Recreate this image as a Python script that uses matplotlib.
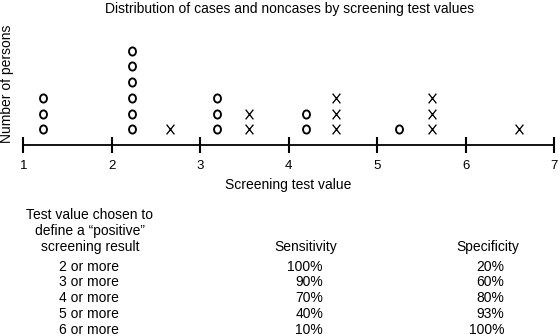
import matplotlib
matplotlib.use('Agg')
import matplotlib.pyplot as plt
from matplotlib.path import Path
from matplotlib.transforms import Affine2D

plt.rcParams['font.family'] = ['Liberation Sans', 'DejaVu Sans']

# ---- data ----
title = "Distribution of cases and noncases by screening test values"
y_label = "Number of persons"
x_label = "Screening test value"
x_ticks = [1, 2, 3, 4, 5, 6, 7]

noncase_values = [1.22, 2.23, 3.19, 4.19, 5.24]   # plotted as O
noncase_counts = [3, 6, 3, 2, 1]
case_values = [2.66, 3.55, 4.53, 5.62, 6.60]      # plotted as X
case_counts = [1, 2, 3, 3, 1]

header_lines = ["Test value chosen to", "define a \u201cpositive\u201d", "screening result"]
col_headers = ["Sensitivity", "Specificity"]
cutoff_labels = ["2 or more", "3 or more", "4 or more", "5 or more", "6 or more"]
sensitivity = [100, 90, 70, 40, 10]
specificity = [20, 60, 80, 93, 100]

# ---- figure ----
W, H = 560, 336
fig = plt.figure(figsize=(W / 100, H / 100), dpi=100)

def fx(px):
    return px / W

def fy(py):
    return 1 - py / H

axis_y = 145
unit_y = 15.7
left_px, right_px = 23.3, 554.3
ax = fig.add_axes([fx(left_px), fy(axis_y), fx(right_px - left_px), 8 * unit_y / H])
ax.set_xlim(1, 7)
ax.set_ylim(0, 8)
for s in ['top', 'right', 'left']:
    ax.spines[s].set_visible(False)
ax.spines['bottom'].set_linewidth(1.3)
ax.set_yticks([])
ax.set_xticks(x_ticks)
ax.set_xticklabels([str(t) for t in x_ticks], fontsize=9.5)
ax.tick_params(axis='x', direction='inout', length=11.5, width=1.5, pad=5)
ax.patch.set_alpha(0)

nx, ny = [], []
for v, c in zip(noncase_values, noncase_counts):
    nx += [v] * c
    ny += list(range(1, c + 1))
cx, cy = [], []
for v, c in zip(case_values, case_counts):
    cx += [v] * c
    cy += list(range(1, c + 1))

# letter-like markers: slightly tall ellipse "O" and tall "X"
o_marker = Affine2D().scale(0.85, 1.0).transform_path(Path.unit_circle())
x_marker = Path([(-0.4, -0.5), (0.4, 0.5), (-0.4, 0.5), (0.4, -0.5)],
                [Path.MOVETO, Path.LINETO, Path.MOVETO, Path.LINETO])

ax.plot(nx, ny, linestyle='none', marker=o_marker, ms=5.9, mfc='none', mec='black', mew=1.35, clip_on=False)
ax.plot(cx, cy, linestyle='none', marker=x_marker, ms=7.0, mfc='none', mec='black', mew=0.95, clip_on=False)

fs = 10
fig.text(fx(290), fy(8.5), title, ha='center', va='center', fontsize=fs)
fig.text(fx(7.5), fy(84), y_label, ha='center', va='center', rotation=90, fontsize=fs)
fig.text(fx(288), fy(184.5), x_label, ha='center', va='center', fontsize=fs)

# ---- table ----
for yy, line in zip([215, 231, 247], header_lines):
    fig.text(fx(90), fy(yy), line, ha='center', va='center', fontsize=fs)
fig.text(fx(306), fy(247), col_headers[0], ha='center', va='center', fontsize=fs)
fig.text(fx(488), fy(247), col_headers[1], ha='center', va='center', fontsize=fs)

row_y = [266.7, 282.3, 298.3, 314.0, 330.0]
for yy, lab, se, sp in zip(row_y, cutoff_labels, sensitivity, specificity):
    fig.text(fx(89), fy(yy), lab, ha='center', va='center', fontsize=fs)
    fig.text(fx(323), fy(yy), f"{se}%", ha='right', va='center', fontsize=fs)
    fig.text(fx(504), fy(yy), f"{sp}%", ha='right', va='center', fontsize=fs)

fig.savefig('out.png', dpi=100)
